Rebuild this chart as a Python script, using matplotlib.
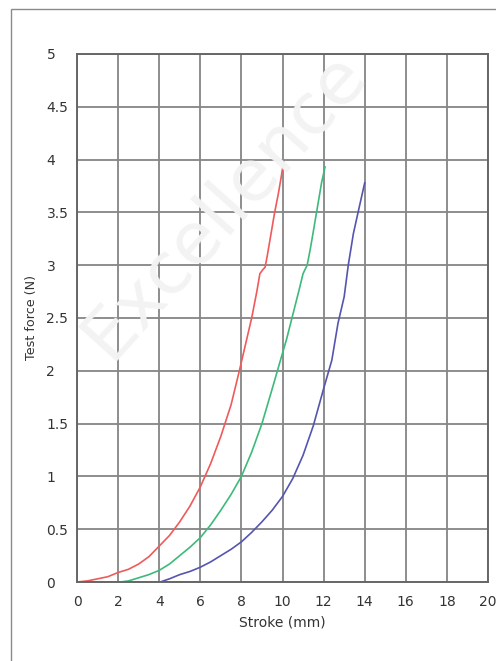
import matplotlib
matplotlib.use("Agg")
import matplotlib.pyplot as plt
from matplotlib.patches import Rectangle

# ---- data ----
red_x = [0, 0.5, 1, 1.5, 2, 2.5, 3, 3.5, 4, 4.5, 5, 5.5, 6, 6.5, 7, 7.5, 7.9, 8.2, 8.5,
         8.75, 8.9, 9.05, 9.15, 9.25, 9.4, 9.6, 9.8, 9.95, 10.05]
red_f = [0, 0.01, 0.03, 0.05, 0.09, 0.12, 0.17, 0.24, 0.34, 0.44, 0.57, 0.72, 0.9, 1.12,
         1.38, 1.68, 2.0, 2.25, 2.5, 2.75, 2.92, 2.96, 2.98, 3.08, 3.25, 3.48, 3.68, 3.85, 3.98]

green_x = [2.1, 2.5, 3, 3.5, 4, 4.5, 5, 5.5, 6, 6.5, 7, 7.5, 8, 8.5, 9, 9.5, 9.9, 10.2,
           10.5, 10.8, 11.0, 11.1, 11.2, 11.35, 11.5, 11.7, 11.9, 12.07]
green_f = [0, 0.01, 0.04, 0.07, 0.11, 0.17, 0.25, 0.33, 0.42, 0.54, 0.68, 0.83, 1.0, 1.23,
           1.5, 1.83, 2.1, 2.3, 2.53, 2.76, 2.92, 2.96, 3.0, 3.15, 3.32, 3.55, 3.78, 3.93]

blue_x = [4.05, 4.5, 5, 5.5, 6, 6.5, 7, 7.5, 8, 8.5, 9, 9.5, 10, 10.5, 11, 11.5, 12, 12.4,
          12.7, 13, 13.2, 13.45, 13.7, 13.85, 14.0]
blue_f = [0, 0.03, 0.07, 0.1, 0.14, 0.19, 0.25, 0.31, 0.38, 0.47, 0.57, 0.68, 0.81, 0.98,
          1.2, 1.48, 1.83, 2.1, 2.45, 2.7, 3.0, 3.3, 3.52, 3.65, 3.78]

x_ticks = [0, 2, 4, 6, 8, 10, 12, 14, 16, 18, 20]
y_ticks = [0, 0.5, 1, 1.5, 2, 2.5, 3, 3.5, 4, 4.5, 5]
y_tick_labels = ["0", "0.5", "1", "1.5", "2", "2.5", "3", "3.5", "4", "4.5", "5"]

plt.rcParams['font.family'] = ['DejaVu Sans']

W, H = 496, 661
fig = plt.figure(figsize=(W / 100, H / 100), dpi=100)

# outer frame
fig.patches.append(Rectangle((11 / W, -0.1), 1.2, (H - 9) / H + 0.1, transform=fig.transFigure,
                             fill=False, edgecolor='#8a8a8a', linewidth=1.0, zorder=0))

# watermark
fig.text(225 / W, (H - 205) / H, "Excellence", rotation=48, fontsize=52, color='#f3f3f3',
         ha='center', va='center', zorder=0)

ax = fig.add_axes([77 / W, (H - 582) / H, 411 / W, 528 / H])
ax.patch.set_alpha(0)

grid_c = '#858585'
ax.set_xlim(0, 20)
ax.set_ylim(0, 5)
ax.set_xticks(x_ticks)
ax.set_yticks(y_ticks)
ax.set_yticklabels(y_tick_labels)
ax.grid(True, color=grid_c, linewidth=1.3)
ax.set_axisbelow(True)
for s in ax.spines.values():
    s.set_color('#666666')
    s.set_linewidth(1.4)

ax.tick_params(axis='both', length=0, labelsize=10, labelcolor='#333333')
ax.tick_params(axis='x', pad=9)
ax.tick_params(axis='y', pad=22)
for lab in ax.get_yticklabels():
    lab.set_horizontalalignment('left')

ax.plot(red_x, red_f, color='#ef5a5a', linewidth=1.2)
ax.plot(green_x, green_f, color='#3dba7a', linewidth=1.2)
ax.plot(blue_x, blue_f, color='#5555b0', linewidth=1.2)

ax.set_xlabel("Stroke (mm)", fontsize=10, color='#333333')
ax.xaxis.set_label_coords(0.5, -0.064)
ax.set_ylabel("Test force (N)", fontsize=9.2, color='#333333')
ax.yaxis.set_label_coords(-0.095, 0.5)

fig.savefig("out.png", dpi=100)
